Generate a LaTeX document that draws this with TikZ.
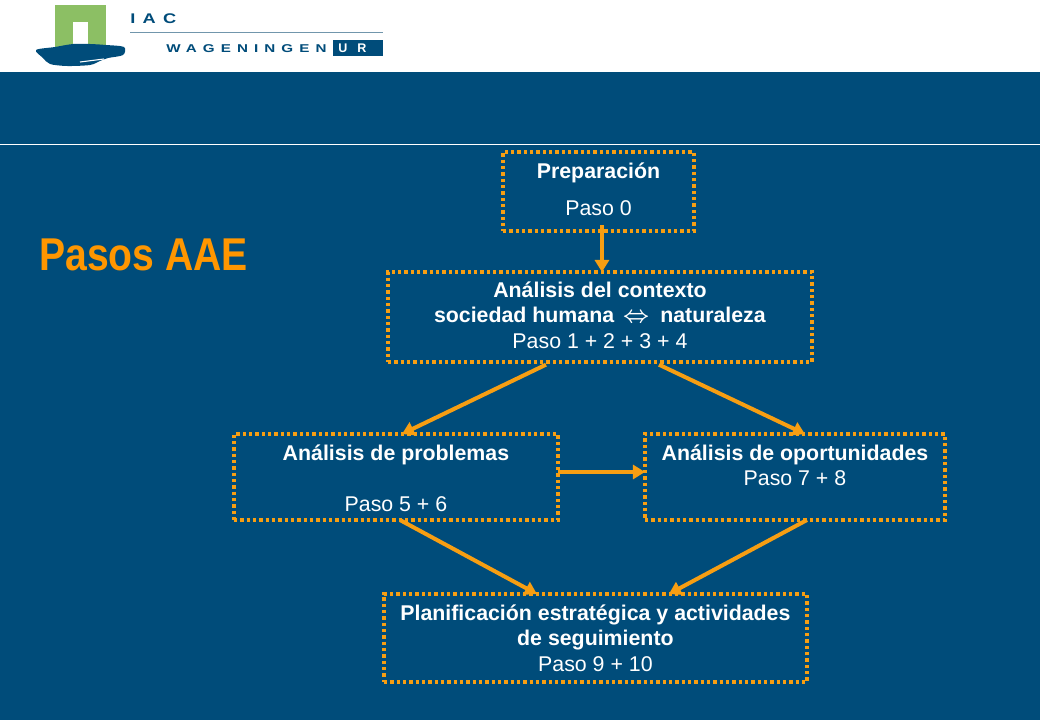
\documentclass[tikz,border=0pt]{standalone}
\usepackage{fontspec}
\setmainfont{Liberation Sans}
\newfontfamily\logofont[LetterSpace=40]{Liberation Sans}
\usetikzlibrary{arrows.meta,positioning}
\definecolor{bgblue}{HTML}{004C7A}
\definecolor{boxorange}{HTML}{F79E12}
\definecolor{titleorange}{HTML}{FF9600}
\definecolor{rulegrey}{HTML}{7196AC}
\definecolor{logogreen}{HTML}{8CBF64}

\begin{document}
\begin{tikzpicture}[
		x=.75pt, y=-.75pt,
		node distance=30pt,
		block/.style={draw=boxorange, line width=2.6pt, dash pattern=on 2.5pt off 2.25pt, text=white, outer sep=0pt, inner sep=0pt, align=center, font=\fontsize{16}{18.75}\selectfont},
		arrow/.style={draw=boxorange, line width=3pt, -{Triangle[length=9pt,width=10.5pt]}},
		logotext/.style={anchor=base west, inner sep=0pt, text=bgblue},
	]
		\useasboundingbox (0,0) rectangle (1040,720);
		\fill[white] (0,0) rectangle (1040,72);
		\fill[bgblue] (0,72) rectangle (1040,720);
		\draw[white, line width=.6pt] (0,144.5) -- (1040,144.5);

		% logo
		\fill[logogreen] (55,5) rectangle (106,50);
		\fill[white] (73,22) rectangle (88,50);
		\fill[bgblue] plot[smooth cycle, tension=.5] coordinates {(36,50) (55,47) (73,44) (90,44) (106,45) (124,47) (123,55) (108,58) (100,61) (90,65) (67,66) (50,64) (43,58)};
		\draw[white, line width=.8pt] (80,62) -- (104,59);
		\draw[rulegrey, line width=.8pt] (130,32.5) -- (383,32.5);
		\fill[bgblue] (333,40) rectangle (383,56);
		\node[logotext, xscale=1.3] (iac) at (130,23.5) {\fontsize{10.5}{12}\logofont\bfseries IAC};
		\node[logotext, xscale=1.34] (wur) at (166,52.5) {\fontsize{8.5}{10}\logofont\bfseries WAGENINGEN};
		\node[logotext, text=white] (ur) at (338,53) {\fontsize{9.4}{11}\selectfont\bfseries U\kern7.5pt R};

		\node[anchor=west, inner sep=0pt, text=titleorange, xscale=.85] (title) at (39,255) {\fontsize{34.5}{40}\selectfont\bfseries Pasos AAE};

		\node[block, minimum width=143.25pt, minimum height=59.25pt] (prep) at (598.5,191.5) {\textbf{Preparación}\\[9pt]Paso 0\\[-15.75pt]\mbox{}};
		\node[block, minimum width=318pt, minimum height=67.5pt, below=30.75pt of prep, xshift=1.1pt] (ctx) {\textbf{Análisis del contexto}\\\textbf{sociedad humana\hspace{6.5pt}\boldmath$\Leftrightarrow$\hspace{3.7pt} naturaleza}\\[.4pt]Paso 1 + 2 + 3 + 4\\[-15.75pt]\mbox{}};
		\node[block, minimum width=243pt, minimum height=64.5pt, below=54pt of ctx, xshift=-153pt] (prob) {\rule{0pt}{14pt}\textbf{Análisis de problemas}\\[19.5pt]Paso 5 + 6};
		\node[block, minimum width=225pt, minimum height=64.5pt, right=65.25pt of prob] (opor) {\rule{0pt}{13.5pt}\textbf{Análisis de oportunidades}\\Paso 7 + 8\\\mbox{}};
		\node[block, minimum width=317.25pt, minimum height=66pt, below=55.5pt of prob, xshift=149.6pt] (plan) {\textbf{Planificación estratégica y actividades}\\\textbf{de seguimiento}\\[.6pt]Paso 9 + 10};

		\draw[arrow] ([xshift=2.6pt,yshift=4.5pt]prep.south) -- ([xshift=1.5pt]ctx.north);
		\draw[arrow] ([xshift=-40.5pt,yshift=-2pt]ctx.south) -- ([xshift=4.5pt]prob.north);
		\draw[arrow] ([xshift=44.25pt,yshift=-2pt]ctx.south) -- ([xshift=7.5pt]opor.north);
		\draw[arrow] ([yshift=3.75pt]prob.east) -- ([yshift=3.75pt]prob.east -| opor.west);
		\draw[arrow] ([xshift=3pt]prob.south) -- ([xshift=-43.9pt]plan.north);
		\draw[arrow] ([xshift=9pt]opor.south) -- ([xshift=55.1pt]plan.north);
	\end{tikzpicture}
\end{document}
